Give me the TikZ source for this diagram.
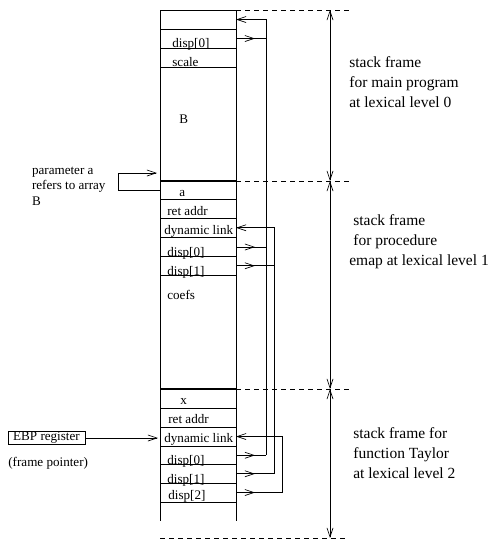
\documentclass[tikz,border=0pt]{standalone}
\usepackage{fontspec}
\setmainfont{Liberation Serif}
\usetikzlibrary{arrows.meta,decorations.markings}

\begin{document}
\begin{tikzpicture}[x=1pt, y=-1pt, line width=0.7pt,
    >={Straight Barb[length=9pt,width=6pt]},
    every node/.style={inner sep=0pt},
    cell/.style={draw, minimum width=76pt, outer sep=0pt},
    entry/.style={anchor=base west, font=\fontsize{13.1}{15.5}\selectfont},
    note/.style={align=left, anchor=west, font=\fontsize{15.5}{20}\selectfont},
    framesep/.style={dash pattern=on 5pt off 4pt},
    dispref/.style={postaction={decorate},
        decoration={markings, mark=at position 19pt with {\arrow{>}}}}]
    \useasboundingbox (0,0) rectangle (493,541);

    % the stack, top to bottom
    \foreach \name/\ya/\yb in {f0link/10/29, f0d0/29/48, f0scale/48/67, f0B/67/181,
        f1a/181/199, f1ret/199/218, f1dyn/218/237.5, f1d0/237.5/256.5, f1d1/256.5/275, f1coefs/275/389,
        f2x/389/408, f2ret/408/427, f2dyn/427/446, f2d0/446/464.5, f2d1/464.5/483, f2d2/483/502}
        \node[cell, minimum height=\yb pt-\ya pt] (\name) at (198,{(\ya+\yb)/2}) {};
    \draw (f2d2.south west) -- ++(0,18.5);
    \draw (f2d2.south east) -- ++(0,18.5);
    \draw[line width=1.3pt] (f0B.south west) -- (f0B.south east);
    \draw[line width=1.3pt] (f1coefs.south west) -- (f1coefs.south east);

    \node[entry] (l0d0) at (172,47) {disp[0]};
    \node[entry] (l0scale) at (172,66) {scale};
    \node[entry] (l0B) at (179,123) {B};
    \node[entry] (l1a) at (179,196) {a};
    \node[entry] (l1ret) at (167,215) {ret addr};
    \node[entry] (l1dyn) at (164,234) {dynamic link};
    \node[entry] (l1d0) at (167,256) {disp[0]};
    \node[entry] (l1d1) at (167,275) {disp[1]};
    \node[entry] (l1coefs) at (167,299) {coefs};
    \node[entry] (l2x) at (180,404) {x};
    \node[entry] (l2ret) at (168,423) {ret addr};
    \node[entry] (l2dyn) at (164,442) {dynamic link};
    \node[entry] (l2d0) at (167,464) {disp[0]};
    \node[entry] (l2d1) at (167,483) {disp[1]};
    \node[entry] (l2d2) at (168,499) {disp[2]};

    % display links
    \coordinate (bus0) at (266,0);
    \coordinate (bus1) at (274,0);
    \coordinate (bus2) at (282,0);
    \draw[<-] (f0link.east) -| (f2d0.east -| bus0);
    \draw[<-] (f1dyn.east) -| (f2d1.east -| bus1);
    \draw[<-] (f2dyn.east) -| (f2d2.east -| bus2);
    \foreach \d/\b in {f0d0/bus0, f1d0/bus0, f1d1/bus1, f2d0/bus0, f2d1/bus1, f2d2/bus2}
        \draw[dispref] (\d.east) -- (\d.east -| \b);

    % frame extents
    \coordinate (b0) at (330,10);
    \coordinate (b1) at (330,181);
    \coordinate (b2) at (330,389);
    \coordinate (b3) at (330,538);
    \coordinate (bot) at (160,538);
    \draw[framesep] (f0link.north east) -- ++(114,0);
    \draw[framesep] (f0B.south east) -- ++(114,0);
    \draw[framesep] (f1coefs.south east) -- ++(116,0);
    \draw[framesep] (bot) -- ++(187,0);
    \draw[<->] (b0) -- (b1);
    \draw[<->] (b1) -- (b2);
    \draw[<->] (b2) -- (b3);

    \node[note] (n0) at (349,82) {stack frame\\for main program\\at lexical level 0};
    \node[note] (n1) at (349,242) {\hspace*{4pt}stack frame\\\hspace*{4pt}for procedure\\emap at lexical level 1};
    \node[note] (n2) at (353,453) {stack frame for\\function Taylor\\at lexical level 2};

    % parameter a
    \coordinate (pa) at (118,173);
    \node[align=left, anchor=west, font=\fontsize{13.1}{15.5}\selectfont] (param) at (31.7,186) {parameter a\\refers to array\\B};
    \draw[->, shorten >=3pt] (f1a.west) -| (pa) -- (pa -| f1a.west);

    % frame pointer
    \node[draw, minimum width=77pt, minimum height=13pt, font=\fontsize{13.1}{15.5}\selectfont] (ebp) at (46.5,438) {EBP register};
    \node[entry, anchor=west] (fp) at (8,463) {(frame pointer)};
    \draw[->, shorten >=2pt] (ebp.east) -- (ebp.east -| f2dyn.west);
\end{tikzpicture}
\end{document}
